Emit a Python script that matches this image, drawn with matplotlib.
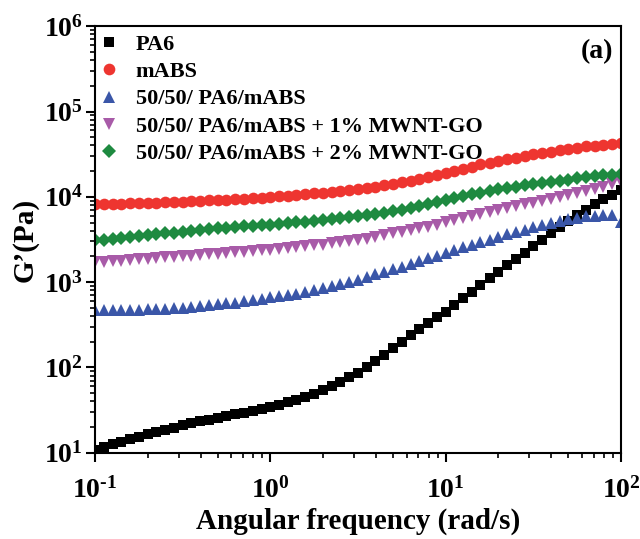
import numpy as np
import matplotlib
matplotlib.use("Agg")
import matplotlib.pyplot as plt
from matplotlib.ticker import FuncFormatter, LogLocator, NullFormatter

# ---- data ----
freq = [0.1, 0.112, 0.126, 0.141, 0.158, 0.178, 0.2, 0.224, 0.251, 0.282,
        0.316, 0.355, 0.398, 0.447, 0.501, 0.562, 0.631, 0.708, 0.794, 0.891,
        1.0, 1.12, 1.26, 1.41, 1.58, 1.78, 2.0, 2.24, 2.51, 2.82,
        3.16, 3.55, 3.98, 4.47, 5.01, 5.62, 6.31, 7.08, 7.94, 8.91,
        10.0, 11.2, 12.6, 14.1, 15.8, 17.8, 20.0, 22.4, 25.1, 28.2,
        31.6, 35.5, 39.8, 44.7, 50.1, 56.2, 63.1, 70.8, 79.4, 89.1, 100.0]

pa6 = [10.7, 11.6, 12.6, 13.5, 14.5, 15.5, 16.6, 17.6, 18.6, 19.7,
       20.9, 22.1, 23.4, 24.5, 25.7, 26.9, 28.2, 29.5, 30.9, 32.7,
       34.7, 36.7, 38.9, 41.7, 44.7, 49.0, 53.7, 60.3, 67.6, 76.7,
       87.1, 102, 120, 141, 170, 200, 240, 282, 331, 385,
       447, 537, 646, 776, 933, 1110, 1320, 1570, 1860, 2210,
       2630, 3160, 3800, 4470, 5250, 6100, 7080, 8130, 9330, 10600, 12000]

mabs = [8220, 8240, 8280, 8320, 8360, 8410, 8470, 8530, 8610, 8690,
        8770, 8850, 8950, 9060, 9160, 9270, 9400, 9530, 9660, 9790,
        9950, 10100, 10300, 10500, 10700, 11000, 11200, 11500, 11700, 12000,
        12300, 12700, 13200, 13600, 14100, 14800, 15500, 16200, 17000, 18000,
        19100, 20200, 21400, 22600, 24000, 25100, 26300, 27500, 28800, 30200,
        31600, 32700, 33900, 35100, 36300, 37600, 38900, 39800, 40700, 41700, 43200]

blend = [468, 468, 468, 468, 470, 473, 479, 484, 490, 495,
         501, 513, 525, 537, 550, 562, 575, 596, 617, 638,
         661, 684, 708, 733, 759, 804, 851, 902, 955, 1010,
         1070, 1150, 1230, 1320, 1410, 1510, 1620, 1760, 1910, 2040,
         2190, 2370, 2570, 2750, 2950, 3160, 3390, 3630, 3890, 4120,
         4370, 4620, 4900, 5190, 5500, 5690, 5890, 6030, 6170, 6170, 5010]

blend1 = [1700, 1730, 1760, 1790, 1820, 1850, 1880, 1910, 1950, 1980,
          2020, 2050, 2090, 2120, 2160, 2200, 2240, 2280, 2320, 2360,
          2400, 2450, 2510, 2570, 2630, 2690, 2750, 2850, 2950, 3020,
          3090, 3240, 3390, 3550, 3720, 3890, 4070, 4270, 4470, 4730,
          5010, 5310, 5620, 5960, 6310, 6680, 7080, 7410, 7760, 8130,
          8510, 8910, 9330, 9890, 10500, 11100, 11700, 12400, 13200, 14000, 14800]

blend2 = [3090, 3160, 3240, 3310, 3390, 3470, 3550, 3630, 3720, 3800,
          3890, 3980, 4070, 4170, 4270, 4340, 4420, 4490, 4570, 4650,
          4730, 4810, 4900, 5010, 5130, 5250, 5370, 5500, 5620, 5750,
          5890, 6100, 6310, 6530, 6760, 7080, 7410, 7760, 8130, 8610,
          9120, 9660, 10200, 10700, 11200, 11700, 12300, 12700, 13200, 13600,
          14100, 14600, 15100, 15500, 15800, 16400, 17000, 17400, 17800, 18200, 18600]

labels = ["PA6", "mABS", "50/50/ PA6/mABS",
          "50/50/ PA6/mABS + 1% MWNT-GO", "50/50/ PA6/mABS + 2% MWNT-GO"]

# ---- style ----
plt.rcParams['font.family'] = ['Liberation Serif', 'DejaVu Serif']
plt.rcParams['font.weight'] = 'bold'
plt.rcParams['mathtext.fontset'] = 'custom'
plt.rcParams['mathtext.rm'] = 'Liberation Serif:bold'
plt.rcParams['mathtext.it'] = 'Liberation Serif:bold'
plt.rcParams['mathtext.bf'] = 'Liberation Serif:bold'

fig = plt.figure(figsize=(6.4, 5.39), dpi=100)
ax = fig.add_axes([0.1484, 0.160, 0.8219, 0.7914])

series = [
    (pa6, 's', '#000000', 7.6),
    (mabs, 'o', '#EE3530', 8.4),
    (blend, '^', '#3A56A8', 9.2),
    (blend1, 'v', '#A85BA8', 9.2),
    (blend2, 'D', '#1E8A40', 6.8),
]
for (vals, mk, col, ms), lab in zip(series, labels):
    ax.plot(freq, vals, linestyle='none', marker=mk, color=col,
            markersize=ms, markeredgewidth=0, label=lab, clip_on=True)

ax.set_xscale('log')
ax.set_yscale('log')
ax.set_xlim(0.1, 100)
ax.set_ylim(10, 1e6)

def fmt(v, pos):
    e = int(round(np.log10(v)))
    if e < 0:
        return r'$\mathrm{10^{\text{-}%d}}$' % (-e)
    return r'$\mathrm{10^{%d}}$' % e

ax.xaxis.set_major_formatter(FuncFormatter(fmt))
ax.yaxis.set_major_formatter(FuncFormatter(fmt))
ax.xaxis.set_minor_locator(LogLocator(base=10, subs=np.arange(2, 10)))
ax.yaxis.set_minor_locator(LogLocator(base=10, subs=np.arange(2, 10)))
ax.xaxis.set_minor_formatter(NullFormatter())
ax.yaxis.set_minor_formatter(NullFormatter())

for s in ax.spines.values():
    s.set_linewidth(1.5)
ax.tick_params(which='major', direction='out', length=6.5, width=1.5,
               labelsize=20, top=False, right=False)
ax.tick_params(which='minor', direction='out', length=3.5, width=1.2,
               top=False, right=False)
ax.tick_params(axis='x', which='major', pad=11)
ax.tick_params(axis='y', which='major', pad=2)

ax.set_xlabel('Angular frequency (rad/s)', fontsize=21, fontweight='bold', labelpad=3)
ax.set_ylabel('G\u2019(Pa)', fontsize=21, fontweight='bold', labelpad=4)

leg = ax.legend(loc='upper left', bbox_to_anchor=(-0.02, 1.012), frameon=False,
                prop={'family': 'Liberation Serif', 'weight': 'bold', 'size': 16},
                handlelength=1.0, handletextpad=0.7, labelspacing=0.30,
                borderaxespad=0.2)

ax.text(0.985, 0.94, '(a)', transform=ax.transAxes, ha='right', va='center',
        fontsize=20, fontweight='bold')

fig.savefig('out.png', dpi=100)
